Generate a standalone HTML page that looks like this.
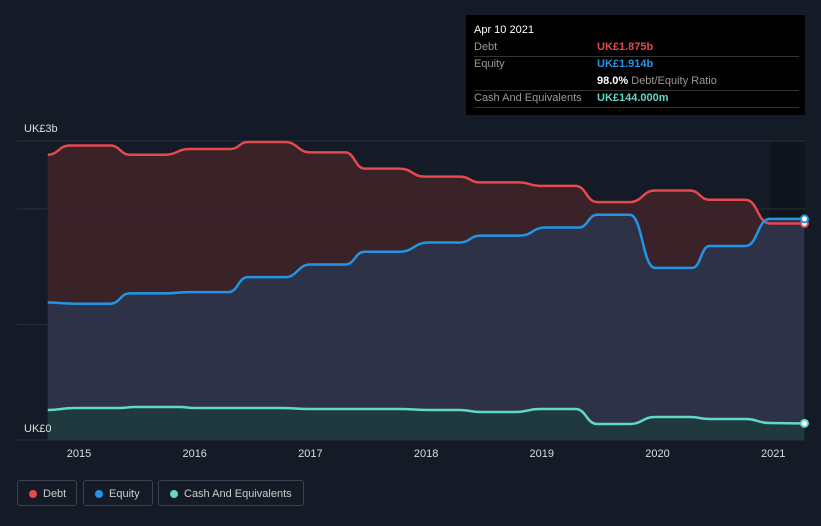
<!DOCTYPE html>
<html><head><meta charset="utf-8">
<style>
html,body{margin:0;padding:0;background:#151b26;width:821px;height:526px;overflow:hidden;font-family:"Liberation Sans",sans-serif}
#tip{position:absolute;left:466px;top:15px;width:339px;height:100px;background:#000;color:#fff;font-size:11px}
.row{position:absolute;left:8px;right:6px;height:17px;border-bottom:1px solid #333;line-height:17px}
.lab{color:#999;position:absolute;left:0}
.val{position:absolute;left:123px;font-weight:bold}
.leg{position:absolute;top:480px;height:26px;border:1px solid #3a414f;border-radius:3px;color:#ccc;font-size:11px;line-height:26px;box-sizing:border-box;padding-left:25px}
.leg i{position:absolute;left:11px;top:9px;width:8px;height:8px;border-radius:50%}
</style></head><body>
<svg id="chart" width="821" height="526" style="position:absolute;left:0;top:0">
<rect x="770" y="141" width="35" height="299" fill="#0f141d"/>
<g id="grid"></g>
<g id="areas"></g>
<g id="lines"></g>
<g id="xaxis"></g>
<text x="24" y="132" fill="#ddd" font-size="11">UK£3b</text>
<text x="24" y="432" fill="#ddd" font-size="11">UK£0</text>
</svg>
<div id="tip">
<div style="position:absolute;left:8px;top:9px;font-size:11px">Apr 10 2021</div>
<div class="row" style="top:24px"><span class="lab">Debt</span><span class="val" style="color:#e5484d">UK£1.875b</span></div>
<div class="row" style="top:41px;border:none"><span class="lab">Equity</span><span class="val" style="color:#2394e6">UK£1.914b</span></div>
<div class="row" style="top:58px"><span class="val">98.0% <span style="color:#999;font-weight:normal">Debt/Equity Ratio</span></span></div>
<div class="row" style="top:75px"><span class="lab">Cash And Equivalents</span><span class="val" style="color:#5fd9c8">UK£144.000m</span></div>
</div>
<div class="leg" style="left:17px;width:60px"><i style="background:#e5484d"></i>Debt</div>
<div class="leg" style="left:83px;width:70px"><i style="background:#2394e6"></i>Equity</div>
<div class="leg" style="left:158px;width:146px"><i style="background:#5fd9c8"></i>Cash And Equivalents</div>
<script>
const debtYears=[2014.73,2014.92,2015.27,2015.44,2015.74,2015.96,2016.31,2016.46,2016.78,2017.0,2017.30,2017.47,2017.77,2017.99,2018.29,2018.47,2018.81,2018.98,2019.29,2019.48,2019.76,2019.98,2020.28,2020.45,2020.76,2020.97,2021.27];
const debtValues=[2.47,2.55,2.55,2.47,2.47,2.52,2.52,2.58,2.58,2.49,2.49,2.35,2.35,2.28,2.28,2.23,2.23,2.20,2.20,2.06,2.06,2.16,2.16,2.08,2.08,1.875,1.875];
const equityYears=[2014.73,2014.96,2015.27,2015.44,2015.74,2015.96,2016.29,2016.46,2016.78,2017.0,2017.30,2017.47,2017.77,2018.02,2018.29,2018.47,2018.81,2019.03,2019.32,2019.48,2019.76,2019.98,2020.30,2020.45,2020.76,2020.97,2021.27];
const equityValues=[1.19,1.18,1.18,1.27,1.27,1.28,1.28,1.41,1.41,1.52,1.52,1.63,1.63,1.71,1.71,1.77,1.77,1.84,1.84,1.95,1.95,1.49,1.49,1.68,1.68,1.914,1.914];
const cashYears=[2014.73,2014.96,2015.35,2015.48,2015.87,2016.0,2016.39,2016.74,2017.0,2017.77,2018.03,2018.29,2018.47,2018.77,2018.98,2019.29,2019.48,2019.76,2019.98,2020.28,2020.45,2020.76,2020.97,2021.27];
const cashValues=[0.26,0.277,0.277,0.286,0.286,0.277,0.277,0.277,0.268,0.268,0.26,0.26,0.242,0.242,0.268,0.268,0.139,0.139,0.199,0.199,0.182,0.182,0.147,0.144];
const xTicks=[2015,2016,2017,2018,2019,2020,2021];
const gridValues=[0,1,2];
const NS="http://www.w3.org/2000/svg";
const X=y=>79+(y-2015)*115.7;
const Y=v=>440-v*115.5;
function mk(tag,attrs,parent){const e=document.createElementNS(NS,tag);for(const k in attrs)e.setAttribute(k,attrs[k]);parent.appendChild(e);return e;}
function path(xs,vs){let d="M"+X(xs[0])+","+Y(vs[0]);for(let i=1;i<xs.length;i++){const x0=X(xs[i-1]),x1=X(xs[i]),m=(x0+x1)/2;d+=" C"+m+","+Y(vs[i-1])+" "+m+","+Y(vs[i])+" "+x1+","+Y(vs[i]);}return d;}
const grid=document.getElementById('grid');
gridValues.forEach(v=>{const l=mk('line',{x1:17,x2:805,y1:Y(v),y2:Y(v),stroke:'#2a303c','stroke-width':1},grid);

});
const topLine=mk('line',{x1:17,x2:805,y1:141,y2:141,stroke:'#2a303c'},grid);


const areas=document.getElementById('areas'),lines=document.getElementById('lines');
const series=[[debtYears,debtValues,'#3c2329','#e5484d','debt'],[equityYears,equityValues,'#2d3448','#2394e6','equity'],[cashYears,cashValues,'#203a3e','#5fd9c8','cash']];
series.forEach(s=>{const p=path(s[0],s[1]);const xe=X(s[0][s[0].length-1]),xs=X(s[0][0]);
const a=mk('path',{d:p+" L"+xe+",440 L"+xs+",440 Z",fill:s[2],'fill-opacity':0.95},areas);


const l=mk('path',{d:p,fill:'none',stroke:s[3],'stroke-width':2.5},lines);


const c=mk('circle',{cx:xe,cy:Y(s[1][s[1].length-1]),r:3.5,fill:'#fff',stroke:s[3],'stroke-width':2},lines);

});
const xa=document.getElementById('xaxis');
xTicks.forEach(t=>{const tx=mk('text',{x:X(t),y:457,fill:'#ddd','font-size':11,'text-anchor':'middle'},xa);tx.textContent=t;

});
</script>
</body></html>
